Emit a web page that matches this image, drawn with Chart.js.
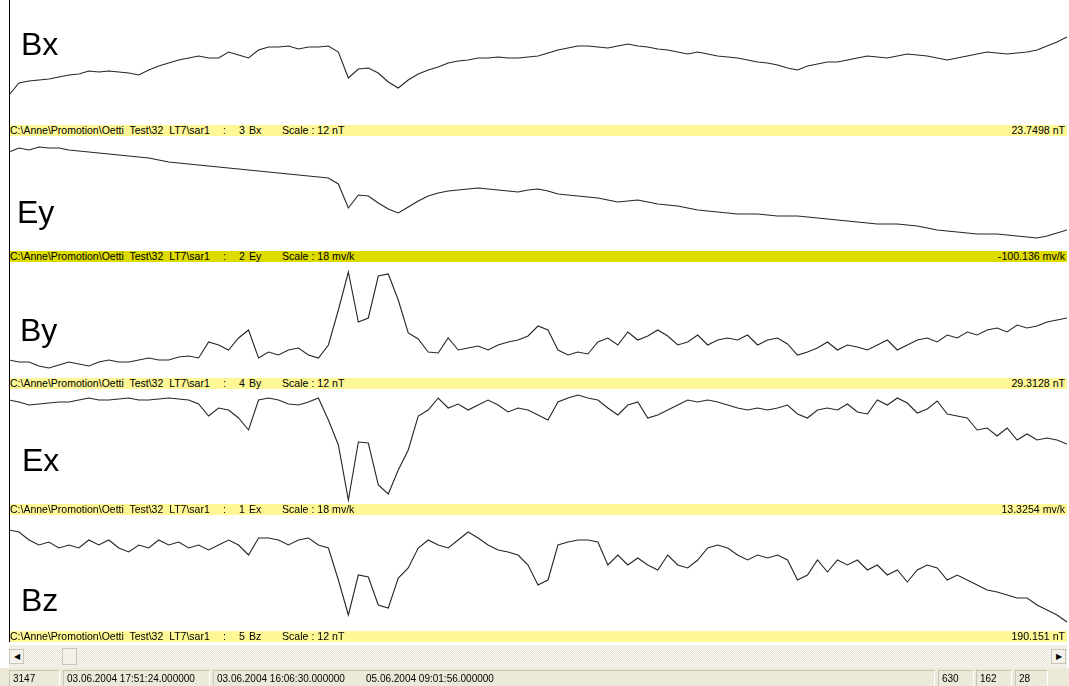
<!DOCTYPE html>
<html>
<head>
<meta charset="utf-8">
<title>sar1 – Bx Ey By Ex Bz</title>
<script src="https://cdn.jsdelivr.net/npm/chart.js@4.4.1/dist/chart.umd.min.js"></script>
<style>
  html, body { margin: 0; padding: 0; background: #fff; width: 1069px; height: 686px; overflow: hidden;
    font-family: "Liberation Sans", Arial, sans-serif; }
  #view { position: relative; width: 1069px; height: 686px; }
  .frame { position: absolute; left: 9px; top: 0; width: 1px; height: 642px; background: #000; }
  .plot { position: absolute; left: 9px; width: 1058px; }
  .plot canvas { display: block; }
  .bar { position: absolute; left: 9px; width: 1058px; height: 11px; background: #fdf796;
    font-size: 10.6px; line-height: 11px; color: #000; white-space: pre; }
  .bar.sel { background: #dedb00; }
  .bar .l { position: absolute; left: 1px; top: 0; }
  .bar .p { font-size: 10.5px; }
  .bar .r { position: absolute; right: 2px; top: 0; }
  .tag { position: absolute; font-size: 32px; line-height: 32px; color: #000; }
  .scroll { position: absolute; left: 9px; top: 645px; width: 1058px; height: 23px;
    background: repeating-conic-gradient(#e6e3d6 0 25%, #fbfaf6 0 50%) 0 0 / 2px 2px; }
  .btn { position: absolute; top: 4px; width: 15px; height: 15px; background: #f3f1ea;
    border: 1px solid #c9c6b8; box-sizing: border-box; font-size: 8px; line-height: 13px; text-align: center; color: #000; }
  .status { position: absolute; left: 0; top: 668px; width: 1069px; height: 18px; background: #ece9d8; }
  .cell { position: absolute; top: 2px; height: 16px; box-sizing: border-box;
    border-top: 1px solid #c8c5b6; border-left: 1px solid #c8c5b6; border-right: 1px solid #fff;
    font-size: 10px; line-height: 15px; padding-left: 3px; white-space: pre; color: #000; }
  .cell span { position: absolute; top: 0; }
</style>
</head>
<body>
<div id="view"></div>
<script>
// Channel readings, one value per sample step across the window (display units of each channel)
const bx = [2.8, 4.0, 4.2, 4.3, 4.4, 4.6, 4.8, 4.9, 5.2, 5.1,
  5.2, 5.1, 5.0, 4.8, 5.3, 5.7, 6.0, 6.3, 6.5, 6.7,
  6.5, 6.5, 7.1, 6.8, 6.5, 7.3, 7.6, 7.6, 7.7, 7.4,
  7.6, 7.6, 7.7, 7.1, 4.5, 5.4, 5.5, 5.0, 4.1, 3.5,
  4.3, 4.9, 5.3, 5.6, 6.0, 6.2, 6.3, 6.5, 6.5, 6.6,
  6.5, 6.5, 6.6, 6.7, 7.0, 7.3, 7.5, 7.7, 7.7, 7.6,
  7.5, 7.7, 7.9, 7.7, 7.6, 7.4, 7.3, 7.1, 6.9, 7.1,
  6.9, 6.7, 6.6, 6.5, 6.3, 6.1, 6.0, 5.8, 5.5, 5.3,
  5.7, 5.9, 6.1, 6.1, 6.3, 6.5, 6.7, 6.6, 6.5, 6.7,
  6.9, 6.8, 6.7, 6.5, 6.3, 6.5, 6.7, 6.9, 7.1, 7.0,
  6.9, 7.0, 7.1, 7.3, 7.7, 8.1, 8.6];

const ey = [9.7, 10.1, 9.9, 10.2, 10.1, 10.1, 9.9, 9.8, 9.7, 9.6,
  9.5, 9.4, 9.3, 9.2, 9.1, 8.9, 8.7, 8.6, 8.5, 8.4,
  8.3, 8.2, 8.1, 8.0, 7.9, 7.8, 7.7, 7.6, 7.5, 7.4,
  7.3, 7.2, 7.1, 6.5, 4.1, 5.4, 5.3, 4.6, 4.0, 3.6,
  4.2, 4.8, 5.3, 5.6, 5.8, 5.9, 6.0, 6.1, 6.0, 5.9,
  5.8, 5.7, 5.9, 6.0, 5.8, 5.5, 5.4, 5.3, 5.2, 5.1,
  4.9, 4.7, 4.8, 4.9, 4.7, 4.5, 4.4, 4.3, 4.1, 3.9,
  3.8, 3.7, 3.6, 3.5, 3.5, 3.5, 3.4, 3.3, 3.3, 3.3,
  3.2, 3.1, 3.0, 2.9, 2.8, 2.7, 2.6, 2.5, 2.5, 2.5,
  2.4, 2.3, 2.1, 1.9, 1.8, 1.7, 1.6, 1.5, 1.5, 1.5,
  1.4, 1.3, 1.2, 1.1, 1.3, 1.6, 1.9];

const by = [1.6, 1.4, 1.4, 1.0, 0.8, 1.1, 1.4, 1.2, 1.0, 1.4,
  1.6, 1.4, 1.4, 1.6, 1.8, 1.6, 1.6, 1.9, 2.0, 1.8,
  3.4, 3.1, 2.6, 3.8, 4.6, 1.8, 2.4, 2.1, 2.6, 2.8,
  2.1, 1.8, 3.1, 6.6, 10.4, 5.4, 5.8, 10.0, 10.2, 7.6,
  4.3, 3.7, 2.4, 2.3, 3.8, 2.6, 2.8, 3.0, 2.6, 3.1,
  3.4, 3.6, 4.0, 5.0, 4.6, 2.6, 2.1, 2.4, 2.2, 3.4,
  3.8, 3.1, 4.4, 3.6, 4.0, 4.6, 4.0, 3.1, 3.4, 4.1,
  3.1, 3.6, 3.8, 3.6, 4.1, 3.1, 3.6, 3.8, 3.2, 2.1,
  2.4, 2.8, 3.4, 2.6, 3.1, 2.9, 2.6, 3.1, 3.6, 2.6,
  3.1, 3.6, 3.8, 3.4, 4.1, 3.8, 4.4, 4.1, 4.6, 4.8,
  4.4, 5.1, 4.8, 5.0, 5.4, 5.6, 5.8];

const ex = [10.4, 10.2, 9.9, 10.0, 10.1, 10.2, 10.2, 10.4, 10.6, 10.4,
  10.4, 10.5, 10.6, 10.4, 10.4, 10.5, 10.6, 10.5, 10.4, 10.0,
  8.8, 9.6, 9.4, 8.6, 7.4, 10.4, 10.6, 10.4, 10.0, 9.9,
  10.2, 10.6, 8.4, 5.9, 0.4, 6.2, 6.1, 1.9, 1.0, 3.4,
  5.4, 8.8, 9.4, 10.6, 9.6, 10.0, 9.4, 9.9, 10.4, 9.9,
  9.2, 9.6, 9.4, 8.9, 8.4, 10.2, 10.6, 10.9, 10.6, 10.4,
  9.6, 8.9, 9.9, 10.2, 8.6, 8.9, 9.4, 9.9, 10.4, 10.2,
  10.4, 10.2, 9.9, 9.6, 9.4, 9.6, 9.4, 9.6, 9.9, 9.0,
  8.6, 9.4, 9.6, 9.4, 10.0, 9.2, 9.0, 10.4, 9.9, 10.6,
  10.1, 9.1, 9.5, 10.3, 9.0, 8.8, 8.6, 7.4, 7.6, 6.8,
  7.6, 6.4, 7.0, 6.4, 6.6, 6.4, 6.0];

const bz = [9.9, 9.7, 8.9, 8.4, 8.7, 8.1, 8.4, 8.1, 8.9, 8.4,
  8.9, 8.1, 7.7, 8.4, 8.1, 8.9, 8.4, 8.7, 8.1, 8.4,
  7.9, 8.4, 8.9, 8.4, 7.4, 9.1, 9.1, 8.9, 8.4, 8.9,
  9.1, 8.4, 8.1, 4.9, 1.4, 5.4, 5.2, 2.4, 2.1, 5.1,
  6.1, 8.1, 8.9, 8.4, 8.1, 8.9, 9.7, 9.1, 8.4, 7.9,
  7.7, 7.4, 6.4, 4.4, 4.9, 8.4, 8.7, 8.9, 8.9, 8.7,
  6.4, 7.4, 6.4, 7.1, 6.4, 5.9, 7.4, 6.4, 6.1, 6.9,
  8.1, 8.4, 8.1, 7.4, 6.9, 7.4, 7.1, 7.4, 6.9, 4.9,
  5.4, 6.9, 5.7, 6.9, 6.4, 6.9, 5.9, 6.4, 5.4, 5.9,
  4.7, 5.9, 6.4, 6.1, 4.9, 5.4, 4.9, 4.4, 3.9, 3.7,
  3.4, 3.1, 3.1, 2.4, 1.9, 1.4, 0.7];

// Channel names, channel numbers, scales and the readout shown on the right of each info bar
const names = ["Bx", "Ey", "By", "Ex", "Bz"];
const channelNo = ["3", "2", "4", "1", "5"];
const scales = ["12 nT", "18 mv/k", "12 nT", "18 mv/k", "12 nT"];
const readouts = ["23.7498 nT", "-100.136 mv/k", "29.3128 nT", "13.3254 mv/k", "190.151 nT"];
const series = [bx, ey, by, ex, bz];

// Status bar texts
const sampleCount = "3147";
const cursorTime = "03.06.2004 17:51:24.000000";
const windowStart = "03.06.2004 16:06:30.000000";
const windowEnd = "05.06.2004 09:01:56.000000";
const counters = ["630", "162", "28"];

const filePath = "C:\\Anne\\Promotion\\Oetti  Test\\32  LT7\\sar1";

// Layout of the five traces (plot band, info bar, big channel tag)
const layout = [
  { top: 0,   height: 123, max: 12.3, bar: 125, tagX: 21, tagY: 28 },
  { top: 136, height: 113, max: 11.3, bar: 251, tagX: 17, tagY: 196 },
  { top: 262, height: 114, max: 11.4, bar: 378, tagX: 20, tagY: 314 },
  { top: 389, height: 115, max: 11.5, bar: 504, tagX: 22, tagY: 444 },
  { top: 517, height: 112, max: 11.2, bar: 631, tagX: 21, tagY: 584 }
];

const view = document.getElementById("view");
const samples = bx.map((_, i) => i);

layout.forEach((L, k) => {
  // trace
  const holder = document.createElement("div");
  holder.className = "plot";
  holder.style.top = L.top + "px";
  holder.style.height = L.height + "px";
  const cv = document.createElement("canvas");
  cv.width = 1058; cv.height = L.height;
  cv.style.width = "1058px"; cv.style.height = L.height + "px";
  holder.appendChild(cv);
  view.appendChild(holder);

  new Chart(cv, {
    type: "line",
    data: {
      labels: samples,
      datasets: [{
        data: series[k],
        borderColor: "#262626",
        borderWidth: 1.1,
        pointRadius: 0,
        tension: 0,
        fill: false,
        clip: false
      }]
    },
    options: {
      responsive: false,
      animation: false,
      events: [],
      layout: { padding: 0 },
      plugins: { legend: { display: false }, tooltip: { enabled: false } },
      scales: {
        x: { type: "category", display: false, offset: false },
        y: { type: "linear", display: false, min: 0, max: L.max }
      }
    }
  });

  // channel tag
  const tag = document.createElement("div");
  tag.className = "tag";
  tag.style.left = L.tagX + "px";
  tag.style.top = L.tagY + "px";
  tag.textContent = names[k];
  view.appendChild(tag);

  // info bar: file path, channel number and name, scale; readout on the right
  const bar = document.createElement("div");
  bar.className = "bar" + (k === 1 ? " sel" : "");
  bar.style.top = L.bar + "px";
  const parts = [[1, filePath, "l p"], [214, ":", "l"], [230, channelNo[k], "l"],
    [240, names[k], "l"], [273, "Scale : " + scales[k], "l"]];
  parts.forEach(p => {
    const s = document.createElement("span");
    s.className = p[2];
    s.style.left = p[0] + "px";
    s.textContent = p[1];
    bar.appendChild(s);
  });
  const r = document.createElement("span");
  r.className = "r";
  r.textContent = readouts[k];
  bar.appendChild(r);
  view.appendChild(bar);
});

// left frame line
const frame = document.createElement("div");
frame.className = "frame";
view.appendChild(frame);

// horizontal scroll bar
const sc = document.createElement("div");
sc.className = "scroll";
sc.innerHTML = '<div class="btn" style="left:0">&#9664;</div>' +
  '<div class="btn" style="left:53px;width:15px;height:17px;top:3px"></div>' +
  '<div class="btn" style="left:1042px">&#9654;</div>';
view.appendChild(sc);

// status bar
const st = document.createElement("div");
st.className = "status";
function cell(left, width, texts) {
  const d = document.createElement("div");
  d.className = "cell";
  d.style.left = left + "px";
  d.style.width = width + "px";
  texts.forEach(t => {
    const s = document.createElement("span");
    s.style.left = t[0] + "px";
    s.textContent = t[1];
    d.appendChild(s);
  });
  st.appendChild(d);
}
cell(9, 51, [[3, sampleCount]]);
cell(63, 147, [[3, cursorTime]]);
cell(213, 722, [[3, windowStart], [152, windowEnd]]);
cell(938, 36, [[3, counters[0]]]);
cell(976, 36, [[3, counters[1]]]);
cell(1015, 33, [[3, counters[2]]]);
view.appendChild(st);
</script>
</body>
</html>
